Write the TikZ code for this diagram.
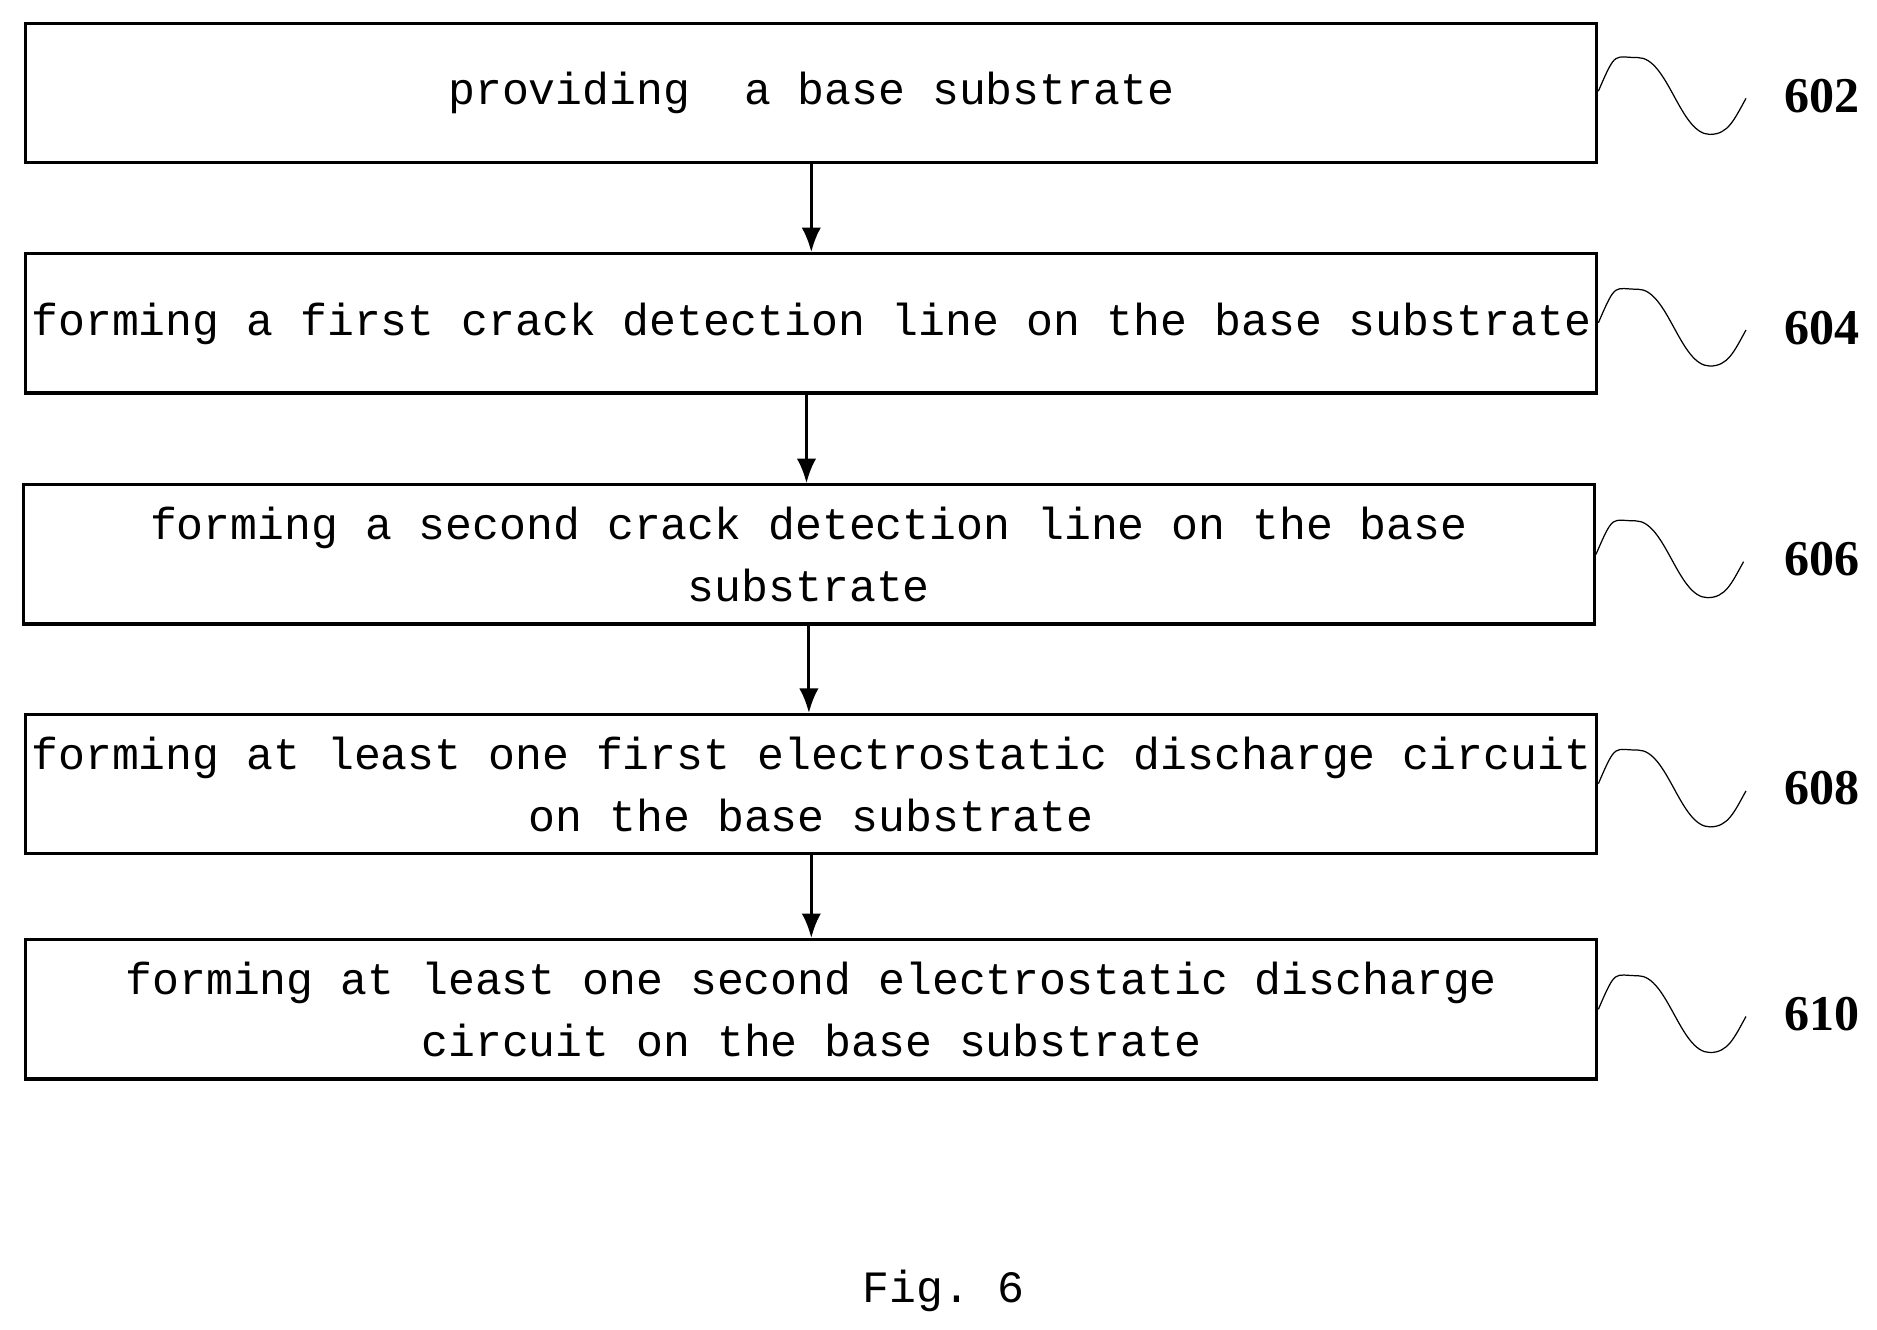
\documentclass[tikz,border=0pt]{standalone}
\usepackage{fontspec}
\setmonofont{Liberation Mono}
\newfontfamily\lblfont{Liberation Serif}
\usetikzlibrary{arrows.meta}
\begin{document}
\begin{tikzpicture}[x=0.024cm,y=-0.024cm,
 box/.style={draw,line width=1.8pt,minimum width=1309*0.024cm,minimum height=116*0.024cm,inner sep=0pt,align=center,font=\ttfamily\fontsize{25.5}{35}\selectfont},
 arr/.style={line width=1.8pt,-{Latex[length=14pt,width=11pt]}},
 sq/.style={line width=0.7pt},
 lbl/.style={font=\lblfont\bfseries\fontsize{28.5}{30}\selectfont}]
\useasboundingbox (0,0) rectangle (1564,1108);
\node[box] (b1) at (676,77.5) {\raisebox{-4pt}{providing\ \ a base substrate}};
\node[box] (b2) at (676,269.5) {\raisebox{-4pt}{forming a first crack detection line on the base substrate}};
\node[box] (b3) at (674,462) {forming a second crack detection line on the base\\substrate};
\node[box] (b4) at (676,653.5) {forming at least one first electrostatic discharge circuit\\on the base substrate};
\node[box] (b5) at (676,841) {forming at least one second electrostatic discharge\\circuit on the base substrate};
\draw[arr] (b1.south) -- (b1.south|-b2.north);
\draw[arr] ([xshift=-4*0.024cm]b2.south) -- ([xshift=-4*0.024cm]b2.south|-b3.north);
\draw[arr] (b3.south) -- (b3.south|-b4.north);
\draw[arr] (b4.south) -- (b4.south|-b5.north);
\foreach \b/\t/\y in {b1/602/80,b2/604/273,b3/606/466,b4/608/657,b5/610/845}{
  \coordinate (s\t) at ([yshift=-(\y-4)*0.024cm]\b.east|-0,0);
  \draw[sq] (\b.east|-s\t) ++(0,0) .. controls +(15,-35) and +(-20,0) .. ++(33,-28)
     .. controls +(25,0) and +(-25,0) .. ++(60,64)
     .. controls +(15,0) and +(-10,18) .. ++(30,-30);
  \node[lbl] (l\t) at (1518,\y) {\t};
}
\node[font=\ttfamily\fontsize{25.5}{28}\selectfont] (fig) at (786,1076) {Fig. 6};
\end{tikzpicture}
\end{document}
